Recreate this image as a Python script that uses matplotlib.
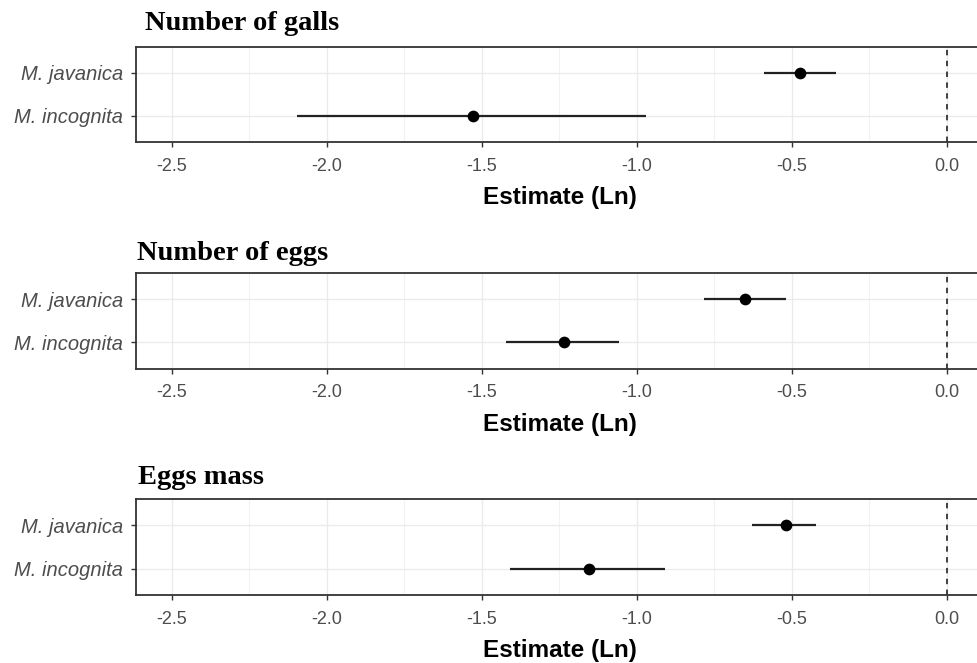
import numpy as np
import matplotlib.pyplot as plt
from matplotlib.ticker import MultipleLocator

species = ['M. incognita', 'M. javanica']
titles = ['Number of galls', 'Number of eggs', 'Eggs mass']

# per panel: [incognita, javanica]
est = [[-1.53, -0.475], [-1.235, -0.650], [-1.156, -0.518]]
lo = [[-2.095, -0.589], [-1.422, -0.785], [-1.409, -0.629]]
hi = [[-0.971, -0.359], [-1.059, -0.519], [-0.910, -0.423]]

xticks = [-2.5, -2.0, -1.5, -1.0, -0.5, 0.0]

fig = plt.figure(figsize=(9.77, 6.63), dpi=100)

W, H = 977, 663
x0 = 136 / W
x1 = 984 / W
panels = [(46.5, 142), (273, 368.5), (499, 595)]
title_y = [24, 253, 478]
title_x = [145, 137, 138]

for i, (top, bot) in enumerate(panels):
    ax = fig.add_axes([x0, 1 - bot / H, x1 - x0, (bot - top) / H])
    ax.set_xlim(-2.616, 0.12)
    ax.set_ylim(0.4, 2.6)
    ax.xaxis.set_major_locator(MultipleLocator(0.5))
    ax.xaxis.set_minor_locator(MultipleLocator(0.25))
    ax.grid(which='major', color='#ebebeb', lw=1.0)
    ax.grid(which='minor', axis='x', color='#f2f2f2', lw=0.8)
    ax.set_axisbelow(True)
    ax.tick_params(which='minor', length=0)
    ax.axvline(0, color='#333333', lw=1.3, ls=(0, (3, 3)), zorder=2)
    y = np.arange(1, len(species) + 1)
    ax.hlines(y, lo[i], hi[i], color='#222222', lw=1.6, zorder=3)
    ax.scatter(est[i], y, s=55, color='black', zorder=4)
    ax.set_yticks(y)
    ax.set_yticklabels(species, fontstyle='italic', family='Liberation Sans',
                       fontsize=14.5, color='#4d4d4d')
    ax.set_xticks(xticks)
    ax.set_xticklabels([f'{v:.1f}' for v in xticks], family='Liberation Sans',
                       fontsize=13, color='#4d4d4d')
    ax.tick_params(axis='x', which='major', length=3.5, color='#333333', width=1, pad=8)
    ax.tick_params(axis='y', which='major', length=3.5, color='#333333', width=1, pad=6)
    for sp in ax.spines.values():
        sp.set_color('#333333')
        sp.set_linewidth(1.3)
    ax.set_xlabel('Estimate (Ln)', family='Liberation Sans', fontweight='bold',
                  fontsize=17.5, labelpad=8)
    fig.text(title_x[i] / W, 1 - title_y[i] / H, titles[i], family='Liberation Serif',
             fontweight='bold', fontsize=20.5, va='center', ha='left')

fig.savefig('out.png', dpi=100, facecolor='white')
